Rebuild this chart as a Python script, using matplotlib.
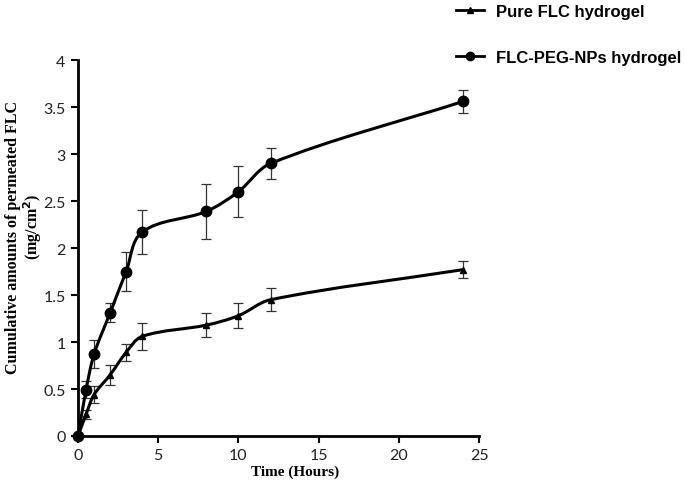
import numpy as np
import matplotlib
matplotlib.use("Agg")
import matplotlib.pyplot as plt
from matplotlib.path import Path
from matplotlib.patches import PathPatch
from matplotlib.lines import Line2D

# data
time_h = [0, 0.5, 1, 2, 3, 4, 8, 10, 12, 24]
pure_flc = [0, 0.23, 0.44, 0.65, 0.89, 1.06, 1.18, 1.28, 1.45, 1.77]
pure_err = [0, 0.05, 0.09, 0.11, 0.09, 0.14, 0.13, 0.13, 0.12, 0.09]
peg_nps = [0, 0.49, 0.87, 1.31, 1.75, 2.17, 2.39, 2.60, 2.90, 3.56]
peg_err = [0, 0.09, 0.15, 0.10, 0.21, 0.23, 0.29, 0.27, 0.16, 0.12]
labels = ["Pure FLC hydrogel", "FLC-PEG-NPs hydrogel"]


def smooth_path(ax, x, y, s=0.33):
    # smoothed line (excel style): bezier segments computed in screen space
    fig.canvas.draw()
    P = ax.transData.transform(np.column_stack([x, y]))
    n = len(P)
    tang = []
    for i in range(n):
        d = P[min(i + 1, n - 1)] - P[max(i - 1, 0)]
        tang.append(d / np.hypot(*d))
    verts = [P[0]]
    codes = [Path.MOVETO]
    for i in range(n - 1):
        L = np.hypot(*(P[i + 1] - P[i]))
        verts += [P[i] + tang[i] * L * s, P[i + 1] - tang[i + 1] * L * s, P[i + 1]]
        codes += [Path.CURVE4] * 3
    verts = ax.transData.inverted().transform(np.array(verts))
    return Path(verts, codes)


fig = plt.figure(figsize=(6.85, 4.85), dpi=100)
ax = fig.add_axes([0.1139, 0.099, 0.5854, 0.775])
ax.set_xlim(0, 25)
ax.set_ylim(0, 4)

for yv, ev, mk, ms in [(pure_flc, pure_err, "^", 5), (peg_nps, peg_err, "o", 7.5)]:
    ax.add_patch(PathPatch(smooth_path(ax, time_h, yv), fill=False, lw=2.2,
                           edgecolor="black", zorder=3))
    ax.errorbar(time_h, yv, yerr=ev, fmt="none", ecolor="#333333",
                elinewidth=0.9, capsize=3.5, capthick=0.9, zorder=2)
    ax.plot(time_h, yv, ls="none", marker=mk, ms=ms, color="black", zorder=4,
            clip_on=False)

ax.set_xticks([0, 5, 10, 15, 20, 25])
ax.set_yticks([0, 0.5, 1, 1.5, 2, 2.5, 3, 3.5, 4])
ax.set_yticklabels(["0", "0.5", "1", "1.5", "2", "2.5", "3", "3.5", "4"])
for s in ["top", "right"]:
    ax.spines[s].set_visible(False)
for s in ["left", "bottom"]:
    ax.spines[s].set_linewidth(2)
ax.tick_params(direction="out", length=5, width=1.5, labelsize=11.5, pad=4)
for lab in ax.get_xticklabels() + ax.get_yticklabels():
    lab.set_fontfamily("Lato")
    lab.set_color("#222222")

fig.text(295 / 685, 1 - 472 / 485, "Time (Hours)", family="Liberation Serif",
         weight="bold", size=11, ha="center", va="center")
fig.text(13 / 685, 1 - 237 / 485, "Cumulative amounts of permeated FLC",
         family="Liberation Serif", weight="bold", size=11.5, rotation=90,
         ha="center", va="center")
fig.text(33 / 685, 1 - 227 / 485, "(mg/cm$^\\mathbf{2}$)",
         family="Liberation Serif", weight="bold", size=11.5, rotation=90,
         ha="center", va="center")

handles = [Line2D([], [], color="black", lw=2, marker="^", ms=4),
           Line2D([], [], color="black", lw=2, marker="o", ms=6)]
leg = fig.legend(handles, labels, loc="upper left", bbox_to_anchor=(0.644, 1.02),
                 frameon=False, handlelength=1.7, handletextpad=0.7,
                 labelspacing=1.85,
                 prop={"family": "Liberation Sans", "weight": "bold", "size": 12})

fig.savefig("out.png", dpi=100)
